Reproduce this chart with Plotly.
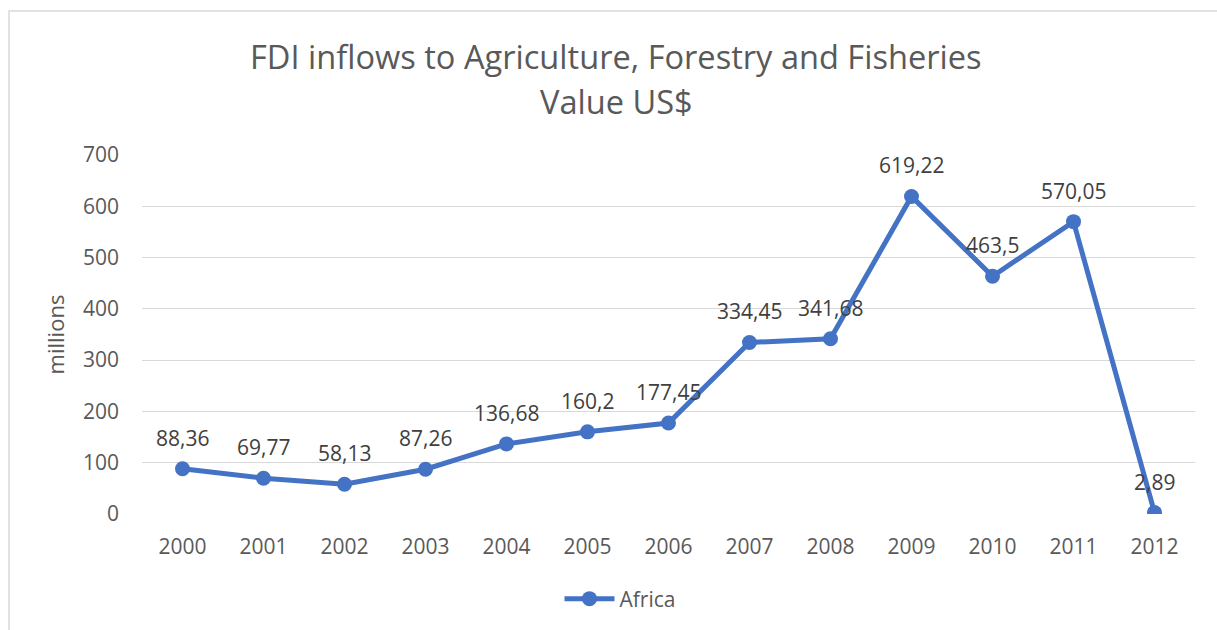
import plotly.graph_objects as go

years = [2000, 2001, 2002, 2003, 2004, 2005, 2006,
         2007, 2008, 2009, 2010, 2011, 2012]
africa = [88.36, 69.77, 58.13, 87.26, 136.68, 160.2, 177.45,
          334.45, 341.68, 619.22, 463.5, 570.05, 2.89]
labels = ["88,36", "69,77", "58,13", "87,26", "136,68", "160,2", "177,45",
          "334,45", "341,68", "619,22", "463,5", "570,05", "2,89"]
y_ticks = [0, 100, 200, 300, 400, 500, 600, 700]

FONT = "Open Sans"
W, H = 1217, 630
L, R, T, B = 142, 22, 155, 116
pw, ph = W - L - R, H - T - B

def px(x):
    return (x - L) / pw

def py(y):
    return (H - B - y) / ph

fig = go.Figure()
fig.add_trace(go.Scatter(
    x=years, y=africa, mode="lines+markers", name="Africa",
    line=dict(color="#4472C4", width=5),
    marker=dict(color="#4472C4", size=15),
))

for xv, yv, t in zip(years, africa, labels):
    fig.add_annotation(x=xv, y=yv, text=t, showarrow=False, yshift=31,
                       xanchor="center", yanchor="middle",
                       font=dict(family=FONT, size=21, color="#404040"))

fig.add_annotation(x=px(616), y=py(57), xref="paper", yref="paper",
                   xanchor="center", yanchor="middle",
                   text="FDI inflows to Agriculture, Forestry and Fisheries",
                   showarrow=False, font=dict(family=FONT, size=32.6, color="#595959"))
fig.add_annotation(x=px(616), y=py(101), xref="paper", yref="paper",
                   xanchor="center", yanchor="middle",
                   text="Value US$",
                   showarrow=False, font=dict(family=FONT, size=32.6, color="#595959"))

fig.add_shape(type="rect", xref="paper", yref="paper",
              x0=px(9), x1=px(1240), y0=py(650), y1=py(11),
              line=dict(color="#D9D9D9", width=1.5), fillcolor="rgba(0,0,0,0)")

fig.update_layout(
    width=W, height=H,
    margin=dict(l=L, r=R, t=T, b=B, autoexpand=False),
    paper_bgcolor="white", plot_bgcolor="white",
    font=dict(family=FONT, size=21, color="#595959"),
    showlegend=True,
    legend=dict(orientation="h", x=px(620), xanchor="center", y=py(599), yanchor="middle",
                font=dict(family=FONT, size=21, color="#595959"), itemwidth=50),
    xaxis=dict(range=[1999.5, 2012.5], tickvals=years, showgrid=False, showline=False,
               zeroline=False, ticks="", ticklabelstandoff=18,
               tickfont=dict(size=21, color="#595959")),
    yaxis=dict(range=[0, 700], tickvals=y_ticks, showgrid=True, gridcolor="#D9D9D9",
               gridwidth=1.3, zeroline=False, showline=False, ticks="",
               ticklabelstandoff=22, tickfont=dict(size=21, color="#595959"),
               title=dict(text="millions", standoff=12,
                          font=dict(family=FONT, size=22, color="#595959"))),
)

fig.write_html("out.html")
